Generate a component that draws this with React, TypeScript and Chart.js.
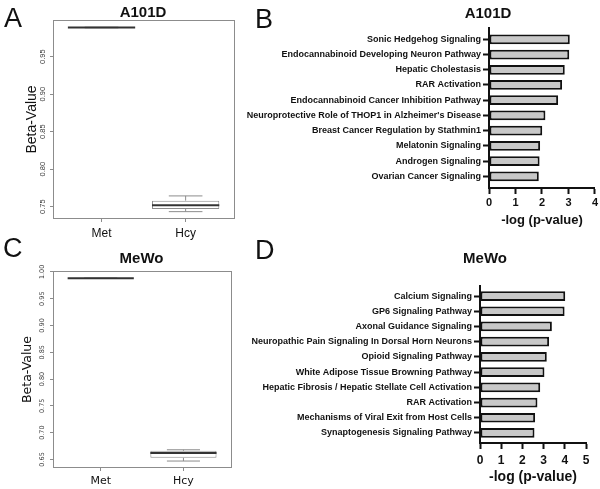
import React, { useEffect, useRef } from "react";
import { Chart, registerables } from "chart.js";

Chart.register(...registerables);

// ---------------- data ----------------
const boxGroups = ["Met", "Hcy"];
// [lower whisker, Q1, median, Q3, upper whisker]
const a101dMet = [0.9886, 0.9888, 0.989, 0.9892, 0.9894];
const a101dHcy = [0.7433, 0.747, 0.752, 0.758, 0.7643];
const mewoMet = [0.9876, 0.9878, 0.988, 0.9882, 0.9884];
const mewoHcy = [0.647, 0.653, 0.662, 0.666, 0.668];
const a101dBetaTicks = [0.75, 0.8, 0.85, 0.9, 0.95];
const mewoBetaTicks = [0.65, 0.7, 0.75, 0.8, 0.85, 0.9, 0.95, 1.0];

const a101dPathways = [
  "Sonic Hedgehog Signaling",
  "Endocannabinoid Developing Neuron Pathway",
  "Hepatic Cholestasis",
  "RAR Activation",
  "Endocannabinoid Cancer Inhibition Pathway",
  "Neuroprotective Role of THOP1 in Alzheimer's Disease",
  "Breast Cancer Regulation by Stathmin1",
  "Melatonin Signaling",
  "Androgen Signaling",
  "Ovarian Cancer Signaling",
];
const a101dLogP = [3.05, 3.03, 2.86, 2.76, 2.61, 2.13, 2.01, 1.93, 1.91, 1.88];
const a101dLogPTicks = [0, 1, 2, 3, 4];

const mewoPathways = [
  "Calcium Signaling",
  "GP6 Signaling Pathway",
  "Axonal Guidance Signaling",
  "Neuropathic Pain Signaling In Dorsal Horn Neurons",
  "Opioid Signaling Pathway",
  "White Adipose Tissue Browning Pathway",
  "Hepatic Fibrosis / Hepatic Stellate Cell Activation",
  "RAR Activation",
  "Mechanisms of Viral Exit from Host Cells",
  "Synaptogenesis Signaling Pathway",
];
const mewoLogP = [4.02, 3.99, 3.39, 3.26, 3.15, 3.04, 2.84, 2.71, 2.6, 2.57];
const mewoLogPTicks = [0, 1, 2, 3, 4, 5];

// ---------------- styles ----------------
const SANS = "'Liberation Sans', Arial, sans-serif";
const DEJAVU = "'DejaVu Sans', Verdana, sans-serif";
const BOX_WIDTH = 0.8;
const FRAME_GREY = "#8c8c8c";

const boxWhiskerPlugin = {
  id: "boxWhiskers",
  afterDatasetsDraw(chart: any, _args: any, opts: any) {
    const { ctx, chartArea: a, scales } = chart;
    const x = scales.x;
    const y = scales.y;
    const seg = (x1: number, y1: number, x2: number, y2: number) => {
      ctx.beginPath();
      ctx.moveTo(x1, y1);
      ctx.lineTo(x2, y2);
      ctx.stroke();
    };
    ctx.save();
    (opts.stats as number[][]).forEach((s, i) => {
      const cx = x.getPixelForValue(i + 1);
      const half = x.getPixelForValue(i + 1 + BOX_WIDTH / 2) - cx;
      const st = half / 2;
      const [lo, q1, med, q3, hi] = s.map((v) => y.getPixelForValue(v));
      ctx.strokeStyle = FRAME_GREY;
      ctx.lineWidth = 1;
      seg(cx, lo, cx, q1);
      seg(cx, q3, cx, hi);
      seg(cx - st, lo, cx + st, lo);
      seg(cx - st, hi, cx + st, hi);
      ctx.strokeStyle = "#333333";
      ctx.lineWidth = 2;
      seg(cx - half, med, cx + half, med);
    });
    ctx.strokeStyle = FRAME_GREY;
    ctx.lineWidth = 1;
    ctx.strokeRect(a.left + 0.5, a.top + 0.5, a.right - a.left - 1, a.bottom - a.top - 1);
    ctx.restore();
  },
};

type BoxOpts = {
  stats: number[][];
  yMin: number;
  yMax: number;
  yTicks: number[];
  family: string;
  catSize: number;
  tickSize: number;
  titleSize: number;
  titlePad: number;
  padTop: number;
  padRight: number;
  yWidth: number;
  xHeight: number;
};

function boxConfig(p: BoxOpts): any {
  return {
    type: "bar",
    data: {
      datasets: [
        {
          data: p.stats.map((s, i) => ({ x: i + 1, y: [s[1], s[3]] })),
          backgroundColor: "#ffffff",
          borderColor: FRAME_GREY,
          borderWidth: 1,
          borderSkipped: false,
          barPercentage: BOX_WIDTH,
          categoryPercentage: 1,
        },
      ],
    },
    options: {
      animation: false,
      responsive: false,
      events: [],
      layout: { padding: { top: p.padTop, right: p.padRight, left: 0, bottom: 0 } },
      plugins: {
        legend: { display: false },
        tooltip: { enabled: false },
        boxWhiskers: { stats: p.stats },
      },
      scales: {
        x: {
          type: "linear",
          min: 0.423,
          max: 2.587,
          offset: false,
          afterBuildTicks: (s: any) => {
            s.ticks = boxGroups.map((_, i) => ({ value: i + 1 }));
          },
          ticks: {
            callback: (_v: any, i: number) => boxGroups[i],
            font: { family: p.family, size: p.catSize },
            color: "#111",
            padding: 4,
            maxRotation: 0,
            autoSkip: false,
          },
          grid: { drawOnChartArea: false, offset: false, tickLength: 3, color: FRAME_GREY },
          border: { display: false },
          afterFit: (s: any) => {
            s.height = p.xHeight;
          },
        },
        y: {
          type: "linear",
          min: p.yMin,
          max: p.yMax,
          afterBuildTicks: (s: any) => {
            s.ticks = p.yTicks.map((v) => ({ value: v }));
          },
          ticks: {
            callback: (v: any) => Number(v).toFixed(2),
            minRotation: 90,
            maxRotation: 90,
            crossAlign: "center",
            padding: 0,
            font: { family: p.family, size: p.tickSize },
            color: "#3a3a3a",
            autoSkip: false,
          },
          grid: { drawOnChartArea: false, tickLength: 3, color: FRAME_GREY },
          border: { display: false },
          title: {
            display: true,
            text: "Beta-Value",
            font: { family: p.family, size: p.titleSize },
            color: "#111",
            padding: { top: p.titlePad, bottom: 0 },
          },
          afterFit: (s: any) => {
            s.width = p.yWidth;
          },
        },
      },
    },
    plugins: [boxWhiskerPlugin],
  };
}

type BarOpts = {
  labels: string[];
  values: number[];
  xTicks: number[];
  yMin: number;
  yMax: number;
  padTop: number;
  padRight: number;
  yWidth: number;
  xHeight: number;
  xTickSize: number;
  xTickPad: number;
  xTitleSize: number;
  xTitlePad: number;
};

function barConfig(p: BarOpts): any {
  return {
    type: "bar",
    data: {
      datasets: [
        {
          data: p.values.map((v, i) => ({ x: v, y: i })),
          backgroundColor: "#c8c8c8",
          borderColor: "#111",
          borderWidth: 2,
          borderSkipped: false,
          barPercentage: 0.64,
          categoryPercentage: 1,
        },
      ],
    },
    options: {
      indexAxis: "y",
      animation: false,
      responsive: false,
      events: [],
      layout: { padding: { top: p.padTop, right: p.padRight, left: 0, bottom: 0 } },
      plugins: { legend: { display: false }, tooltip: { enabled: false } },
      scales: {
        y: {
          type: "linear",
          reverse: true,
          min: p.yMin,
          max: p.yMax,
          offset: false,
          afterBuildTicks: (s: any) => {
            s.ticks = p.labels.map((_, i) => ({ value: i }));
          },
          ticks: {
            callback: (_v: any, i: number) => p.labels[i],
            font: { family: SANS, size: 9, weight: "bold" },
            color: "#111",
            padding: 2,
            autoSkip: false,
          },
          grid: { drawOnChartArea: false, offset: false, tickLength: 6, tickWidth: 2, color: "#111" },
          border: { display: true, width: 2, color: "#111" },
          afterFit: (s: any) => {
            s.width = p.yWidth;
          },
        },
        x: {
          type: "linear",
          min: p.xTicks[0],
          max: p.xTicks[p.xTicks.length - 1],
          offset: false,
          afterBuildTicks: (s: any) => {
            s.ticks = p.xTicks.map((v) => ({ value: v }));
          },
          ticks: {
            font: { family: SANS, size: p.xTickSize, weight: "bold" },
            color: "#111",
            padding: p.xTickPad,
            maxRotation: 0,
            autoSkip: false,
          },
          grid: { drawOnChartArea: false, offset: false, tickLength: 6, tickWidth: 2, color: "#111" },
          border: { display: true, width: 2, color: "#111" },
          title: {
            display: true,
            text: "-log (p-value)",
            font: { family: SANS, size: p.xTitleSize, weight: "bold" },
            color: "#111",
            padding: { top: 0, bottom: p.xTitlePad },
          },
          afterFit: (s: any) => {
            s.height = p.xHeight;
          },
        },
      },
    },
  };
}

function ChartCanvas(props: { make: () => any; x: number; y: number; w: number; h: number }) {
  const ref = useRef<HTMLCanvasElement>(null);
  useEffect(() => {
    const chart = new Chart(ref.current as HTMLCanvasElement, props.make());
    return () => chart.destroy();
  }, []);
  return (
    <canvas
      ref={ref}
      width={props.w}
      height={props.h}
      style={{ position: "absolute", left: props.x, top: props.y, width: props.w, height: props.h }}
    />
  );
}

function Label(props: {
  text: string;
  cx?: number;
  left?: number;
  cy: number;
  size: number;
  bold?: boolean;
  family?: string;
}) {
  const lh = Math.round(props.size * 1.3);
  const w = 200;
  const style: React.CSSProperties = {
    position: "absolute",
    top: props.cy - lh / 2,
    height: lh,
    lineHeight: `${lh}px`,
    fontSize: props.size,
    fontWeight: props.bold ? 700 : 400,
    fontFamily: props.family || SANS,
    color: "#111",
    whiteSpace: "nowrap",
  };
  if (props.cx !== undefined) {
    style.left = props.cx - w / 2;
    style.width = w;
    style.textAlign = "center";
  } else {
    style.left = props.left;
  }
  return <div style={style}>{props.text}</div>;
}

export default function App() {
  return (
    <div
      style={{
        position: "fixed",
        left: 0,
        top: 0,
        width: 600,
        height: 489,
        background: "#ffffff",
        overflow: "hidden",
      }}
    >
      <ChartCanvas
        x={0}
        y={0}
        w={250}
        h={240}
        make={() =>
          boxConfig({
            stats: [a101dMet, a101dHcy],
            yMin: 0.7335,
            yMax: 0.999,
            yTicks: a101dBetaTicks,
            family: SANS,
            catSize: 12,
            tickSize: 7.5,
            titleSize: 14,
            titlePad: 24,
            padTop: 20,
            padRight: 15,
            yWidth: 53,
            xHeight: 21,
          })
        }
      />
      <ChartCanvas
        x={0}
        y={240}
        w={250}
        h={249}
        make={() =>
          boxConfig({
            stats: [mewoMet, mewoHcy],
            yMin: 0.634,
            yMax: 1.0016,
            yTicks: mewoBetaTicks,
            family: DEJAVU,
            catSize: 11,
            tickSize: 6.5,
            titleSize: 12.5,
            titlePad: 20,
            padTop: 31,
            padRight: 18,
            yWidth: 53,
            xHeight: 21,
          })
        }
      />
      <ChartCanvas
        x={245}
        y={0}
        w={355}
        h={235}
        make={() =>
          barConfig({
            labels: a101dPathways,
            values: a101dLogP,
            xTicks: a101dLogPTicks,
            yMin: -0.74,
            yMax: 9.76,
            padTop: 28,
            padRight: 5,
            yWidth: 244,
            xHeight: 47,
            xTickSize: 11,
            xTickPad: 2,
            xTitleSize: 13,
            xTitlePad: 7,
          })
        }
      />
      <ChartCanvas
        x={245}
        y={230}
        w={355}
        h={259}
        make={() =>
          barConfig({
            labels: mewoPathways,
            values: mewoLogP,
            xTicks: mewoLogPTicks,
            yMin: -0.66,
            yMax: 9.66,
            padTop: 56,
            padRight: 14,
            yWidth: 235,
            xHeight: 46,
            xTickSize: 12,
            xTickPad: 4,
            xTitleSize: 14,
            xTitlePad: 3,
          })
        }
      />
      <Label text="A" left={4} cy={18} size={27} />
      <Label text="B" left={255} cy={19} size={27} />
      <Label text="C" left={3} cy={248} size={27} />
      <Label text="D" left={255} cy={250} size={27} />
      <Label text="A101D" cx={143} cy={11.5} size={15} bold />
      <Label text="A101D" cx={488} cy={13} size={15} bold />
      <Label text="MeWo" cx={141.5} cy={257.5} size={15} bold />
      <Label text="MeWo" cx={485} cy={258} size={15} bold />
    </div>
  );
}
